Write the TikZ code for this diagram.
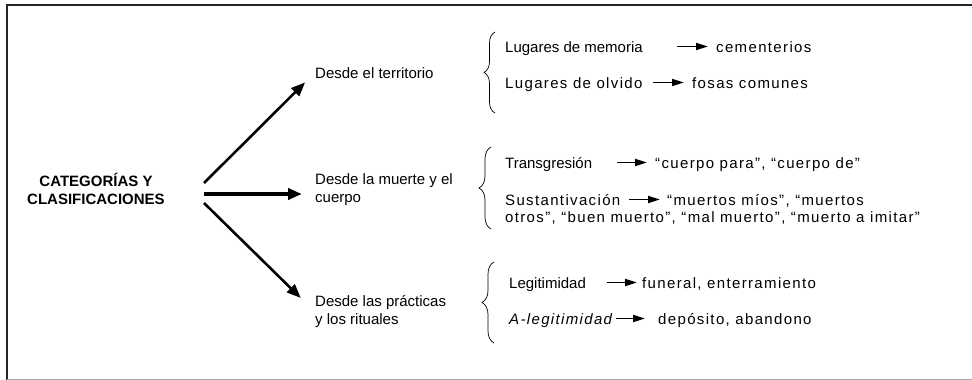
\documentclass[tikz,border=0pt]{standalone}
\usepackage{fontspec}
\setmainfont{Liberation Sans}
\newfontfamily\spaced[LetterSpace=9]{Liberation Sans}
\usetikzlibrary{arrows.meta,decorations.pathreplacing,positioning}

\begin{document}
\begin{tikzpicture}[x=1pt,y=-1pt,
font=\fontsize{15}{18}\selectfont,
every node/.style={inner sep=0pt},
txt/.style={anchor=base west,text height=11pt,text depth=0pt},
wide/.style={txt,font=\spaced\fontsize{15}{18}\selectfont},
lines/.style={anchor=west,align=left},
fork/.style={line width=2.6pt,-{Triangle[length=14pt,width=11pt]},shorten >=14pt},
pointer/.style={line width=1.8pt,-{Triangle[length=12pt,width=7pt]},shorten >=8pt},
curly/.style={decorate,decoration={brace,amplitude=11pt},line width=0.7pt}]

\useasboundingbox (0,0) rectangle (972,380);
% frame
\draw[line width=2pt,black!85] (7,380) -- (7,5) -- (972,5);
\draw[line width=1pt,gray!70] (7,379.5) -- (972,379.5);

\node[align=center,font=\bfseries\fontsize{15}{18}\selectfont] (cat) at (96,189) {CATEGORÍAS Y\\CLASIFICACIONES};

\node[txt] (terr) at (315,78) {Desde el territorio};
\node[lines] (med) at (315,190) {Desde la muerte y el\\cuerpo};
\node[lines] (rit) at (315,312) {Desde las prácticas\\y los rituales};

\coordinate (forkT) at (204,183);
\coordinate (forkM) at (204,194);
\coordinate (forkB) at (204,203);

\draw[fork] (forkT) -- (terr.west);
\draw[fork,line width=3.8pt,shorten >=13pt] (forkM) -- (forkM -| med.west);
\draw[fork,shorten >=20pt] (forkB) -- (rit.west);

% territorio
\draw[curly] (495,113) -- (495,32);
\node[txt] (mem) at (505,52) {Lugares de memoria};
\node[wide] (cem) at (716,52) {cementerios};
\node[wide] (olv) at (505,88) {Lugares de olvido};
\node[wide] (fos) at (692,88) {fosas comunes};
\draw[pointer] ([xshift=-39pt]cem.west) -- (cem.west);
\draw[pointer] ([xshift=-39pt]fos.west) -- (fos.west);

% muerte y cuerpo
\draw[curly,decoration={amplitude=12pt}] (491,229) -- (491,147);
\node[txt] (trans) at (505,168) {Transgresión};
\node[wide] (cpo) at (655,168) {“cuerpo para”, “cuerpo de”};
\node[wide] (sust) at (505,205) {Sustantivación};
\node[wide] (mue) at (667,205) {“muertos míos”, “muertos};
\node[wide] (otr) at (505,222.5) {otros”, “buen muerto”, “mal muerto”, “muerto a imitar”};
\draw[pointer] ([xshift=-38pt]cpo.west) -- (cpo.west);
\draw[pointer,shorten >=7pt] ([xshift=-38pt]mue.west) -- (mue.west);

% practicas y rituales
\draw[curly,decoration={amplitude=12pt}] (494,343) -- (494,262);
\node[txt] (leg) at (509,288) {Legitimidad};
\node[wide] (fun) at (642,288) {funeral, enterramiento};
\node[wide,font=\spaced\itshape\fontsize{15}{18}\selectfont] (aleg) at (509,324) {A-legitimidad};
\node[wide] (dep) at (658,324) {depósito, abandono};
\draw[pointer,shorten >=5pt] ([xshift=-35pt]fun.west) -- (fun.west);
\draw[pointer,shorten >=13pt] ([xshift=-42pt]dep.west) -- (dep.west);
\end{tikzpicture}
\end{document}
